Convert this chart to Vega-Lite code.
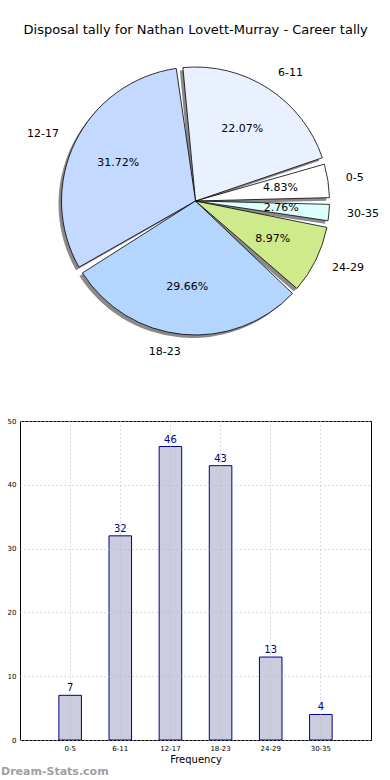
{
  "$schema": "https://vega.github.io/schema/vega-lite/v6.json",
  "padding": {"top": 24, "left": 0, "right": 0, "bottom": 0},
  "background": "white",
  "config": {"font": "DejaVu Sans", "view": {"stroke": null}},
  "title": {"text": "Disposal tally for Nathan Lovett-Murray - Career tally", "fontSize": 13, "fontWeight": "normal", "color": "#000000", "anchor": "middle", "offset": 8, "dx": 6},
  "data": {"values": [
    {"idx": 0, "range": "0-5", "count": 7, "pct": "4.83%"},
    {"idx": 1, "range": "6-11", "count": 32, "pct": "22.07%"},
    {"idx": 2, "range": "12-17", "count": 46, "pct": "31.72%"},
    {"idx": 3, "range": "18-23", "count": 43, "pct": "29.66%"},
    {"idx": 4, "range": "24-29", "count": 13, "pct": "8.97%"},
    {"idx": 5, "range": "30-35", "count": 4, "pct": "2.76%"}
  ]},
  "vconcat": [
    {
      "width": 351,
      "height": 312,
      "view": {"stroke": null},
      "encoding": {
        "theta": {"field": "count", "type": "quantitative", "stack": true, "scale": {"range": [1.5708, -4.7124]}},
        "order": {"field": "idx", "type": "quantitative"}
      },
      "layer": [
        {
          "mark": {"type": "arc", "radius": 134, "padAngle": 0.05, "color": "#8a8a8a", "xOffset": -3, "yOffset": 3}
        },
        {
          "mark": {"type": "arc", "radius": 134, "padAngle": 0.05, "stroke": "#000000", "strokeWidth": 0.8},
          "encoding": {
            "color": {"field": "range", "type": "nominal", "legend": null,
              "scale": {"domain": ["0-5", "6-11", "12-17", "18-23", "24-29", "30-35"],
                        "range": ["#ffffff", "#e9f0fe", "#c4d9ff", "#b4d5fe", "#cfea8a", "#dcfffe"]}}
          }
        },
        {
          "mark": {"type": "text", "radius": 86, "fontSize": 11, "color": "#000000"},
          "encoding": {"text": {"field": "pct"}}
        },
        {
          "mark": {"type": "text", "radius": 152, "fontSize": 11, "color": "#000000",
                   "align": {"expr": "indexof(['12-17','18-23'], datum.range) >= 0 ? 'right' : 'left'"}},
          "encoding": {"text": {"field": "range"}}
        }
      ]
    },
    {
      "width": 351,
      "height": 319,
      "view": {"stroke": "#000000", "strokeWidth": 1},
      "title": {"text": "Dream-Stats.com", "orient": "bottom", "anchor": "start", "frame": "bounds", "fontSize": 11, "fontWeight": "bold", "color": "#a0a0a0", "offset": 2},
      "encoding": {
        "x": {"field": "range", "type": "nominal", "sort": null,
          "scale": {"paddingInner": 0.55, "paddingOuter": 0.775},
          "axis": {"labelAngle": 0, "labelFontSize": 7, "labelColor": "#000000", "title": "Frequency", "titleFontSize": 10, "titleFontWeight": "normal", "titleColor": "#000000", "titlePadding": 3,
                   "grid": true, "gridDash": [1, 3], "gridColor": "#b8b8b8", "bandPosition": 0.5, "domain": false, "ticks": false, "labelPadding": 4, "zindex": 1}},
        "y": {"field": "count", "type": "quantitative",
          "scale": {"domain": [0, 50], "nice": false},
          "axis": {"values": [0, 10, 20, 30, 40, 50], "labelFontSize": 7, "labelColor": "#000000", "title": null, "grid": true, "gridDash": [1, 3], "gridColor": "#b8b8b8", "domain": false, "ticks": false, "labelPadding": 4, "minExtent": 19, "maxExtent": 19, "zindex": 1}}
      },
      "layer": [
        {"mark": {"type": "bar", "fill": "#ccccdf", "stroke": "#00008b", "strokeWidth": 1}},
        {"mark": {"type": "text", "dy": -7, "fontSize": 10, "color": "#000080"}, "encoding": {"text": {"field": "count"}}}
      ]
    }
  ],
  "spacing": 58
}
